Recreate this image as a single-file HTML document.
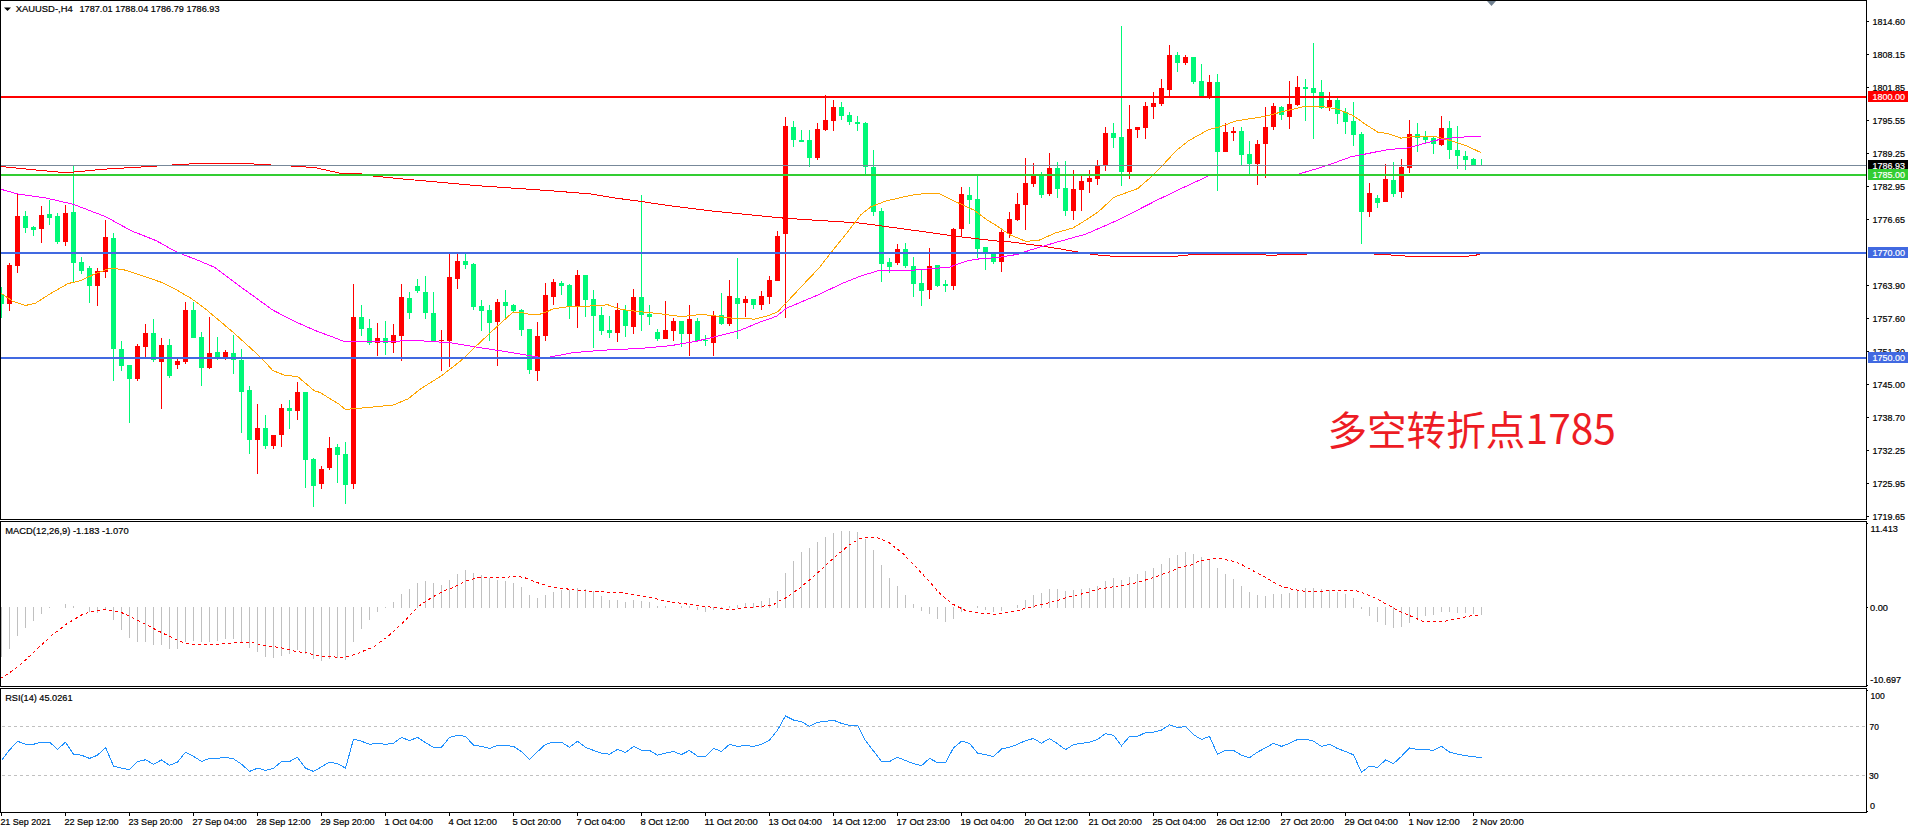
<!DOCTYPE html><html><head><meta charset="utf-8"><title>XAUUSD H4</title>
<style>html,body{margin:0;padding:0;background:#fff;}body{width:1908px;height:833px;overflow:hidden;}svg{display:block;}text{font-family:"Liberation Sans","Noto Sans CJK SC",sans-serif;font-size:9.7px;fill:#000;stroke:#000;stroke-width:0.2px;}.w{fill:#fff;stroke:#fff;}.cj{font-family:"Noto Sans CJK SC","Liberation Sans",sans-serif;font-size:39px;fill:#ed1c24;stroke:none;}</style></head><body>
<svg width="1908" height="833" viewBox="0 0 1908 833">
<rect x="0" y="0" width="1908" height="833" fill="#fff"/>
<defs><clipPath id="cm"><rect x="1" y="1" width="1865" height="518"/></clipPath><clipPath id="cd"><rect x="1" y="522" width="1865" height="164"/></clipPath><clipPath id="cr"><rect x="1" y="689" width="1865" height="123"/></clipPath></defs>
<g shape-rendering="crispEdges" clip-path="url(#cm)">
<rect x="1" y="287" width="1" height="31" fill="#00f877"/>
<rect x="-1" y="294" width="5" height="10" fill="#00f877"/>
<rect x="9" y="263" width="1" height="48" fill="#ff0000"/>
<rect x="7" y="265" width="5" height="39" fill="#ff0000"/>
<rect x="17" y="193" width="1" height="80" fill="#ff0000"/>
<rect x="15" y="216" width="5" height="50" fill="#ff0000"/>
<rect x="25" y="211" width="1" height="22" fill="#00f877"/>
<rect x="23" y="216" width="5" height="12" fill="#00f877"/>
<rect x="33" y="226" width="1" height="10" fill="#00f877"/>
<rect x="31" y="227" width="5" height="3" fill="#00f877"/>
<rect x="41" y="206" width="1" height="37" fill="#ff0000"/>
<rect x="39" y="215" width="5" height="14" fill="#ff0000"/>
<rect x="49" y="200" width="1" height="25" fill="#00f877"/>
<rect x="47" y="214" width="5" height="4" fill="#00f877"/>
<rect x="57" y="213" width="1" height="31" fill="#00f877"/>
<rect x="55" y="216" width="5" height="26" fill="#00f877"/>
<rect x="65" y="205" width="1" height="41" fill="#ff0000"/>
<rect x="63" y="213" width="5" height="29" fill="#ff0000"/>
<rect x="73" y="165" width="1" height="117" fill="#00f877"/>
<rect x="71" y="212" width="5" height="51" fill="#00f877"/>
<rect x="81" y="257" width="1" height="17" fill="#00f877"/>
<rect x="79" y="262" width="5" height="9" fill="#00f877"/>
<rect x="89" y="266" width="1" height="37" fill="#00f877"/>
<rect x="87" y="268" width="5" height="18" fill="#00f877"/>
<rect x="97" y="268" width="1" height="38" fill="#ff0000"/>
<rect x="95" y="271" width="5" height="15" fill="#ff0000"/>
<rect x="105" y="220" width="1" height="58" fill="#ff0000"/>
<rect x="103" y="237" width="5" height="35" fill="#ff0000"/>
<rect x="113" y="233" width="1" height="148" fill="#00f877"/>
<rect x="111" y="238" width="5" height="111" fill="#00f877"/>
<rect x="121" y="341" width="1" height="30" fill="#00f877"/>
<rect x="119" y="349" width="5" height="17" fill="#00f877"/>
<rect x="129" y="365" width="1" height="58" fill="#00f877"/>
<rect x="127" y="365" width="5" height="14" fill="#00f877"/>
<rect x="137" y="344" width="1" height="37" fill="#ff0000"/>
<rect x="135" y="346" width="5" height="33" fill="#ff0000"/>
<rect x="145" y="324" width="1" height="33" fill="#ff0000"/>
<rect x="143" y="333" width="5" height="14" fill="#ff0000"/>
<rect x="153" y="319" width="1" height="43" fill="#00f877"/>
<rect x="151" y="333" width="5" height="27" fill="#00f877"/>
<rect x="161" y="338" width="1" height="71" fill="#ff0000"/>
<rect x="159" y="345" width="5" height="17" fill="#ff0000"/>
<rect x="169" y="339" width="1" height="39" fill="#00f877"/>
<rect x="167" y="345" width="5" height="31" fill="#00f877"/>
<rect x="177" y="359" width="1" height="10" fill="#ff0000"/>
<rect x="175" y="361" width="5" height="4" fill="#ff0000"/>
<rect x="185" y="302" width="1" height="62" fill="#ff0000"/>
<rect x="183" y="310" width="5" height="52" fill="#ff0000"/>
<rect x="193" y="302" width="1" height="36" fill="#00f877"/>
<rect x="191" y="310" width="5" height="28" fill="#00f877"/>
<rect x="201" y="332" width="1" height="54" fill="#00f877"/>
<rect x="199" y="337" width="5" height="31" fill="#00f877"/>
<rect x="209" y="317" width="1" height="52" fill="#ff0000"/>
<rect x="207" y="353" width="5" height="15" fill="#ff0000"/>
<rect x="217" y="337" width="1" height="23" fill="#00f877"/>
<rect x="215" y="352" width="5" height="5" fill="#00f877"/>
<rect x="225" y="350" width="1" height="10" fill="#ff0000"/>
<rect x="223" y="352" width="5" height="5" fill="#ff0000"/>
<rect x="233" y="335" width="1" height="39" fill="#00f877"/>
<rect x="231" y="353" width="5" height="7" fill="#00f877"/>
<rect x="241" y="349" width="1" height="84" fill="#00f877"/>
<rect x="239" y="360" width="5" height="32" fill="#00f877"/>
<rect x="249" y="386" width="1" height="68" fill="#00f877"/>
<rect x="247" y="390" width="5" height="50" fill="#00f877"/>
<rect x="257" y="404" width="1" height="70" fill="#ff0000"/>
<rect x="255" y="428" width="5" height="12" fill="#ff0000"/>
<rect x="265" y="415" width="1" height="34" fill="#00f877"/>
<rect x="263" y="428" width="5" height="18" fill="#00f877"/>
<rect x="273" y="435" width="1" height="14" fill="#ff0000"/>
<rect x="271" y="435" width="5" height="11" fill="#ff0000"/>
<rect x="281" y="404" width="1" height="43" fill="#ff0000"/>
<rect x="279" y="408" width="5" height="27" fill="#ff0000"/>
<rect x="289" y="400" width="1" height="29" fill="#00f877"/>
<rect x="287" y="408" width="5" height="3" fill="#00f877"/>
<rect x="297" y="382" width="1" height="38" fill="#ff0000"/>
<rect x="295" y="392" width="5" height="19" fill="#ff0000"/>
<rect x="305" y="392" width="1" height="96" fill="#00f877"/>
<rect x="303" y="392" width="5" height="68" fill="#00f877"/>
<rect x="313" y="458" width="1" height="49" fill="#00f877"/>
<rect x="311" y="459" width="5" height="27" fill="#00f877"/>
<rect x="321" y="466" width="1" height="23" fill="#ff0000"/>
<rect x="319" y="469" width="5" height="15" fill="#ff0000"/>
<rect x="329" y="437" width="1" height="33" fill="#ff0000"/>
<rect x="327" y="448" width="5" height="20" fill="#ff0000"/>
<rect x="337" y="444" width="1" height="39" fill="#00f877"/>
<rect x="335" y="447" width="5" height="8" fill="#00f877"/>
<rect x="345" y="442" width="1" height="62" fill="#00f877"/>
<rect x="343" y="454" width="5" height="31" fill="#00f877"/>
<rect x="353" y="284" width="1" height="205" fill="#ff0000"/>
<rect x="351" y="317" width="5" height="167" fill="#ff0000"/>
<rect x="361" y="305" width="1" height="31" fill="#00f877"/>
<rect x="359" y="317" width="5" height="12" fill="#00f877"/>
<rect x="369" y="319" width="1" height="26" fill="#00f877"/>
<rect x="367" y="328" width="5" height="15" fill="#00f877"/>
<rect x="377" y="323" width="1" height="33" fill="#ff0000"/>
<rect x="375" y="338" width="5" height="5" fill="#ff0000"/>
<rect x="385" y="321" width="1" height="34" fill="#00f877"/>
<rect x="383" y="338" width="5" height="5" fill="#00f877"/>
<rect x="393" y="324" width="1" height="29" fill="#ff0000"/>
<rect x="391" y="335" width="5" height="8" fill="#ff0000"/>
<rect x="401" y="284" width="1" height="77" fill="#ff0000"/>
<rect x="399" y="297" width="5" height="39" fill="#ff0000"/>
<rect x="409" y="292" width="1" height="27" fill="#00f877"/>
<rect x="407" y="298" width="5" height="15" fill="#00f877"/>
<rect x="417" y="279" width="1" height="14" fill="#00f877"/>
<rect x="415" y="286" width="5" height="5" fill="#00f877"/>
<rect x="425" y="276" width="1" height="43" fill="#00f877"/>
<rect x="423" y="292" width="5" height="21" fill="#00f877"/>
<rect x="433" y="292" width="1" height="50" fill="#00f877"/>
<rect x="431" y="313" width="5" height="28" fill="#00f877"/>
<rect x="441" y="330" width="1" height="41" fill="#ff0000"/>
<rect x="439" y="340" width="5" height="1" fill="#ff0000"/>
<rect x="449" y="254" width="1" height="113" fill="#ff0000"/>
<rect x="447" y="277" width="5" height="64" fill="#ff0000"/>
<rect x="457" y="254" width="1" height="35" fill="#ff0000"/>
<rect x="455" y="261" width="5" height="18" fill="#ff0000"/>
<rect x="465" y="254" width="1" height="15" fill="#00f877"/>
<rect x="463" y="261" width="5" height="4" fill="#00f877"/>
<rect x="473" y="263" width="1" height="47" fill="#00f877"/>
<rect x="471" y="264" width="5" height="43" fill="#00f877"/>
<rect x="481" y="300" width="1" height="31" fill="#00f877"/>
<rect x="479" y="306" width="5" height="5" fill="#00f877"/>
<rect x="489" y="305" width="1" height="36" fill="#00f877"/>
<rect x="487" y="310" width="5" height="13" fill="#00f877"/>
<rect x="497" y="299" width="1" height="67" fill="#ff0000"/>
<rect x="495" y="302" width="5" height="20" fill="#ff0000"/>
<rect x="505" y="290" width="1" height="28" fill="#00f877"/>
<rect x="503" y="302" width="5" height="4" fill="#00f877"/>
<rect x="513" y="304" width="1" height="8" fill="#00f877"/>
<rect x="511" y="305" width="5" height="6" fill="#00f877"/>
<rect x="521" y="309" width="1" height="27" fill="#00f877"/>
<rect x="519" y="310" width="5" height="20" fill="#00f877"/>
<rect x="529" y="329" width="1" height="45" fill="#00f877"/>
<rect x="527" y="329" width="5" height="41" fill="#00f877"/>
<rect x="537" y="322" width="1" height="59" fill="#ff0000"/>
<rect x="535" y="336" width="5" height="35" fill="#ff0000"/>
<rect x="545" y="283" width="1" height="58" fill="#ff0000"/>
<rect x="543" y="295" width="5" height="41" fill="#ff0000"/>
<rect x="553" y="279" width="1" height="26" fill="#ff0000"/>
<rect x="551" y="282" width="5" height="15" fill="#ff0000"/>
<rect x="561" y="281" width="1" height="14" fill="#00f877"/>
<rect x="559" y="283" width="5" height="3" fill="#00f877"/>
<rect x="569" y="284" width="1" height="35" fill="#00f877"/>
<rect x="567" y="285" width="5" height="22" fill="#00f877"/>
<rect x="577" y="270" width="1" height="58" fill="#ff0000"/>
<rect x="575" y="275" width="5" height="31" fill="#ff0000"/>
<rect x="585" y="275" width="1" height="42" fill="#00f877"/>
<rect x="583" y="275" width="5" height="25" fill="#00f877"/>
<rect x="593" y="290" width="1" height="58" fill="#00f877"/>
<rect x="591" y="299" width="5" height="17" fill="#00f877"/>
<rect x="601" y="307" width="1" height="28" fill="#00f877"/>
<rect x="599" y="315" width="5" height="16" fill="#00f877"/>
<rect x="609" y="316" width="1" height="22" fill="#00f877"/>
<rect x="607" y="330" width="5" height="3" fill="#00f877"/>
<rect x="617" y="303" width="1" height="39" fill="#ff0000"/>
<rect x="615" y="310" width="5" height="23" fill="#ff0000"/>
<rect x="625" y="305" width="1" height="32" fill="#00f877"/>
<rect x="623" y="310" width="5" height="16" fill="#00f877"/>
<rect x="633" y="289" width="1" height="45" fill="#ff0000"/>
<rect x="631" y="297" width="5" height="30" fill="#ff0000"/>
<rect x="641" y="195" width="1" height="136" fill="#00f877"/>
<rect x="639" y="297" width="5" height="18" fill="#00f877"/>
<rect x="649" y="305" width="1" height="20" fill="#00f877"/>
<rect x="647" y="314" width="5" height="3" fill="#00f877"/>
<rect x="657" y="329" width="1" height="12" fill="#00f877"/>
<rect x="655" y="332" width="5" height="7" fill="#00f877"/>
<rect x="665" y="301" width="1" height="38" fill="#ff0000"/>
<rect x="663" y="330" width="5" height="9" fill="#ff0000"/>
<rect x="673" y="318" width="1" height="23" fill="#ff0000"/>
<rect x="671" y="321" width="5" height="10" fill="#ff0000"/>
<rect x="681" y="321" width="1" height="26" fill="#00f877"/>
<rect x="679" y="321" width="5" height="13" fill="#00f877"/>
<rect x="689" y="305" width="1" height="51" fill="#ff0000"/>
<rect x="687" y="319" width="5" height="15" fill="#ff0000"/>
<rect x="697" y="318" width="1" height="23" fill="#00f877"/>
<rect x="695" y="321" width="5" height="20" fill="#00f877"/>
<rect x="705" y="335" width="1" height="11" fill="#00f877"/>
<rect x="703" y="340" width="5" height="1" fill="#00f877"/>
<rect x="713" y="311" width="1" height="45" fill="#ff0000"/>
<rect x="711" y="315" width="5" height="28" fill="#ff0000"/>
<rect x="721" y="293" width="1" height="32" fill="#00f877"/>
<rect x="719" y="315" width="5" height="9" fill="#00f877"/>
<rect x="729" y="280" width="1" height="46" fill="#ff0000"/>
<rect x="727" y="296" width="5" height="28" fill="#ff0000"/>
<rect x="737" y="258" width="1" height="81" fill="#00f877"/>
<rect x="735" y="298" width="5" height="6" fill="#00f877"/>
<rect x="745" y="296" width="1" height="21" fill="#ff0000"/>
<rect x="743" y="299" width="5" height="4" fill="#ff0000"/>
<rect x="753" y="299" width="1" height="10" fill="#00f877"/>
<rect x="751" y="299" width="5" height="6" fill="#00f877"/>
<rect x="761" y="291" width="1" height="19" fill="#ff0000"/>
<rect x="759" y="296" width="5" height="9" fill="#ff0000"/>
<rect x="769" y="276" width="1" height="28" fill="#ff0000"/>
<rect x="767" y="280" width="5" height="17" fill="#ff0000"/>
<rect x="777" y="231" width="1" height="50" fill="#ff0000"/>
<rect x="775" y="236" width="5" height="45" fill="#ff0000"/>
<rect x="785" y="117" width="1" height="201" fill="#ff0000"/>
<rect x="783" y="126" width="5" height="108" fill="#ff0000"/>
<rect x="793" y="121" width="1" height="26" fill="#00f877"/>
<rect x="791" y="127" width="5" height="13" fill="#00f877"/>
<rect x="801" y="130" width="1" height="12" fill="#00f877"/>
<rect x="799" y="140" width="5" height="2" fill="#00f877"/>
<rect x="809" y="130" width="1" height="37" fill="#00f877"/>
<rect x="807" y="140" width="5" height="18" fill="#00f877"/>
<rect x="817" y="123" width="1" height="37" fill="#ff0000"/>
<rect x="815" y="129" width="5" height="29" fill="#ff0000"/>
<rect x="825" y="95" width="1" height="36" fill="#ff0000"/>
<rect x="823" y="120" width="5" height="10" fill="#ff0000"/>
<rect x="833" y="100" width="1" height="31" fill="#ff0000"/>
<rect x="831" y="107" width="5" height="14" fill="#ff0000"/>
<rect x="841" y="102" width="1" height="18" fill="#00f877"/>
<rect x="839" y="107" width="5" height="9" fill="#00f877"/>
<rect x="849" y="112" width="1" height="13" fill="#00f877"/>
<rect x="847" y="115" width="5" height="7" fill="#00f877"/>
<rect x="857" y="116" width="1" height="15" fill="#00f877"/>
<rect x="855" y="122" width="5" height="2" fill="#00f877"/>
<rect x="865" y="122" width="1" height="52" fill="#00f877"/>
<rect x="863" y="123" width="5" height="44" fill="#00f877"/>
<rect x="873" y="150" width="1" height="66" fill="#00f877"/>
<rect x="871" y="167" width="5" height="45" fill="#00f877"/>
<rect x="881" y="208" width="1" height="74" fill="#00f877"/>
<rect x="879" y="211" width="5" height="53" fill="#00f877"/>
<rect x="889" y="258" width="1" height="15" fill="#00f877"/>
<rect x="887" y="262" width="5" height="5" fill="#00f877"/>
<rect x="897" y="244" width="1" height="21" fill="#ff0000"/>
<rect x="895" y="249" width="5" height="14" fill="#ff0000"/>
<rect x="905" y="243" width="1" height="25" fill="#00f877"/>
<rect x="903" y="249" width="5" height="17" fill="#00f877"/>
<rect x="913" y="257" width="1" height="40" fill="#00f877"/>
<rect x="911" y="266" width="5" height="18" fill="#00f877"/>
<rect x="921" y="270" width="1" height="36" fill="#00f877"/>
<rect x="919" y="283" width="5" height="8" fill="#00f877"/>
<rect x="929" y="248" width="1" height="51" fill="#ff0000"/>
<rect x="927" y="266" width="5" height="24" fill="#ff0000"/>
<rect x="937" y="265" width="1" height="22" fill="#00f877"/>
<rect x="935" y="265" width="5" height="21" fill="#00f877"/>
<rect x="945" y="280" width="1" height="12" fill="#00f877"/>
<rect x="943" y="284" width="5" height="2" fill="#00f877"/>
<rect x="953" y="228" width="1" height="62" fill="#ff0000"/>
<rect x="951" y="229" width="5" height="57" fill="#ff0000"/>
<rect x="961" y="187" width="1" height="49" fill="#ff0000"/>
<rect x="959" y="194" width="5" height="35" fill="#ff0000"/>
<rect x="969" y="187" width="1" height="37" fill="#00f877"/>
<rect x="967" y="195" width="5" height="5" fill="#00f877"/>
<rect x="977" y="176" width="1" height="82" fill="#00f877"/>
<rect x="975" y="199" width="5" height="50" fill="#00f877"/>
<rect x="985" y="247" width="1" height="23" fill="#00f877"/>
<rect x="983" y="247" width="5" height="6" fill="#00f877"/>
<rect x="993" y="253" width="1" height="11" fill="#00f877"/>
<rect x="991" y="253" width="5" height="9" fill="#00f877"/>
<rect x="1001" y="230" width="1" height="42" fill="#ff0000"/>
<rect x="999" y="232" width="5" height="30" fill="#ff0000"/>
<rect x="1009" y="212" width="1" height="26" fill="#ff0000"/>
<rect x="1007" y="219" width="5" height="15" fill="#ff0000"/>
<rect x="1017" y="193" width="1" height="28" fill="#ff0000"/>
<rect x="1015" y="204" width="5" height="16" fill="#ff0000"/>
<rect x="1025" y="158" width="1" height="72" fill="#ff0000"/>
<rect x="1023" y="183" width="5" height="22" fill="#ff0000"/>
<rect x="1033" y="163" width="1" height="24" fill="#ff0000"/>
<rect x="1031" y="176" width="5" height="8" fill="#ff0000"/>
<rect x="1041" y="172" width="1" height="26" fill="#00f877"/>
<rect x="1039" y="175" width="5" height="20" fill="#00f877"/>
<rect x="1049" y="153" width="1" height="43" fill="#ff0000"/>
<rect x="1047" y="168" width="5" height="26" fill="#ff0000"/>
<rect x="1057" y="162" width="1" height="36" fill="#00f877"/>
<rect x="1055" y="168" width="5" height="21" fill="#00f877"/>
<rect x="1065" y="161" width="1" height="55" fill="#00f877"/>
<rect x="1063" y="188" width="5" height="23" fill="#00f877"/>
<rect x="1073" y="170" width="1" height="50" fill="#ff0000"/>
<rect x="1071" y="189" width="5" height="22" fill="#ff0000"/>
<rect x="1081" y="176" width="1" height="35" fill="#ff0000"/>
<rect x="1079" y="181" width="5" height="9" fill="#ff0000"/>
<rect x="1089" y="170" width="1" height="23" fill="#ff0000"/>
<rect x="1087" y="178" width="5" height="4" fill="#ff0000"/>
<rect x="1097" y="160" width="1" height="25" fill="#ff0000"/>
<rect x="1095" y="165" width="5" height="14" fill="#ff0000"/>
<rect x="1105" y="127" width="1" height="44" fill="#ff0000"/>
<rect x="1103" y="133" width="5" height="33" fill="#ff0000"/>
<rect x="1113" y="123" width="1" height="25" fill="#00f877"/>
<rect x="1111" y="133" width="5" height="5" fill="#00f877"/>
<rect x="1121" y="26" width="1" height="160" fill="#00f877"/>
<rect x="1119" y="137" width="5" height="35" fill="#00f877"/>
<rect x="1129" y="105" width="1" height="74" fill="#ff0000"/>
<rect x="1127" y="129" width="5" height="43" fill="#ff0000"/>
<rect x="1137" y="127" width="1" height="11" fill="#ff0000"/>
<rect x="1135" y="127" width="5" height="3" fill="#ff0000"/>
<rect x="1145" y="102" width="1" height="37" fill="#ff0000"/>
<rect x="1143" y="106" width="5" height="22" fill="#ff0000"/>
<rect x="1153" y="92" width="1" height="27" fill="#ff0000"/>
<rect x="1151" y="103" width="5" height="4" fill="#ff0000"/>
<rect x="1161" y="79" width="1" height="27" fill="#ff0000"/>
<rect x="1159" y="88" width="5" height="16" fill="#ff0000"/>
<rect x="1169" y="45" width="1" height="51" fill="#ff0000"/>
<rect x="1167" y="55" width="5" height="35" fill="#ff0000"/>
<rect x="1177" y="52" width="1" height="20" fill="#00f877"/>
<rect x="1175" y="55" width="5" height="8" fill="#00f877"/>
<rect x="1185" y="55" width="1" height="10" fill="#ff0000"/>
<rect x="1183" y="57" width="5" height="6" fill="#ff0000"/>
<rect x="1193" y="57" width="1" height="27" fill="#00f877"/>
<rect x="1191" y="57" width="5" height="25" fill="#00f877"/>
<rect x="1201" y="64" width="1" height="32" fill="#00f877"/>
<rect x="1199" y="81" width="5" height="15" fill="#00f877"/>
<rect x="1209" y="75" width="1" height="24" fill="#ff0000"/>
<rect x="1207" y="82" width="5" height="16" fill="#ff0000"/>
<rect x="1217" y="74" width="1" height="117" fill="#00f877"/>
<rect x="1215" y="82" width="5" height="70" fill="#00f877"/>
<rect x="1225" y="123" width="1" height="29" fill="#ff0000"/>
<rect x="1223" y="132" width="5" height="20" fill="#ff0000"/>
<rect x="1233" y="127" width="1" height="14" fill="#ff0000"/>
<rect x="1231" y="131" width="5" height="2" fill="#ff0000"/>
<rect x="1241" y="127" width="1" height="38" fill="#00f877"/>
<rect x="1239" y="131" width="5" height="24" fill="#00f877"/>
<rect x="1249" y="141" width="1" height="33" fill="#00f877"/>
<rect x="1247" y="154" width="5" height="10" fill="#00f877"/>
<rect x="1257" y="140" width="1" height="45" fill="#ff0000"/>
<rect x="1255" y="144" width="5" height="20" fill="#ff0000"/>
<rect x="1265" y="107" width="1" height="71" fill="#ff0000"/>
<rect x="1263" y="127" width="5" height="17" fill="#ff0000"/>
<rect x="1273" y="103" width="1" height="27" fill="#ff0000"/>
<rect x="1271" y="106" width="5" height="21" fill="#ff0000"/>
<rect x="1281" y="106" width="1" height="14" fill="#00f877"/>
<rect x="1279" y="107" width="5" height="8" fill="#00f877"/>
<rect x="1289" y="81" width="1" height="48" fill="#ff0000"/>
<rect x="1287" y="104" width="5" height="13" fill="#ff0000"/>
<rect x="1297" y="76" width="1" height="30" fill="#ff0000"/>
<rect x="1295" y="87" width="5" height="18" fill="#ff0000"/>
<rect x="1305" y="79" width="1" height="42" fill="#00f877"/>
<rect x="1303" y="87" width="5" height="2" fill="#00f877"/>
<rect x="1313" y="43" width="1" height="96" fill="#00f877"/>
<rect x="1311" y="88" width="5" height="5" fill="#00f877"/>
<rect x="1321" y="80" width="1" height="29" fill="#00f877"/>
<rect x="1319" y="92" width="5" height="16" fill="#00f877"/>
<rect x="1329" y="92" width="1" height="19" fill="#ff0000"/>
<rect x="1327" y="100" width="5" height="7" fill="#ff0000"/>
<rect x="1337" y="98" width="1" height="26" fill="#00f877"/>
<rect x="1335" y="100" width="5" height="14" fill="#00f877"/>
<rect x="1345" y="108" width="1" height="26" fill="#00f877"/>
<rect x="1343" y="112" width="5" height="10" fill="#00f877"/>
<rect x="1353" y="102" width="1" height="44" fill="#00f877"/>
<rect x="1351" y="121" width="5" height="14" fill="#00f877"/>
<rect x="1361" y="132" width="1" height="112" fill="#00f877"/>
<rect x="1359" y="134" width="5" height="78" fill="#00f877"/>
<rect x="1369" y="183" width="1" height="34" fill="#ff0000"/>
<rect x="1367" y="193" width="5" height="19" fill="#ff0000"/>
<rect x="1377" y="195" width="1" height="13" fill="#00f877"/>
<rect x="1375" y="198" width="5" height="5" fill="#00f877"/>
<rect x="1385" y="164" width="1" height="38" fill="#ff0000"/>
<rect x="1383" y="179" width="5" height="23" fill="#ff0000"/>
<rect x="1393" y="162" width="1" height="35" fill="#00f877"/>
<rect x="1391" y="180" width="5" height="14" fill="#00f877"/>
<rect x="1401" y="159" width="1" height="39" fill="#ff0000"/>
<rect x="1399" y="167" width="5" height="25" fill="#ff0000"/>
<rect x="1409" y="120" width="1" height="53" fill="#ff0000"/>
<rect x="1407" y="134" width="5" height="34" fill="#ff0000"/>
<rect x="1417" y="123" width="1" height="29" fill="#00f877"/>
<rect x="1415" y="134" width="5" height="4" fill="#00f877"/>
<rect x="1425" y="131" width="1" height="13" fill="#00f877"/>
<rect x="1423" y="137" width="5" height="3" fill="#00f877"/>
<rect x="1433" y="137" width="1" height="17" fill="#00f877"/>
<rect x="1431" y="138" width="5" height="6" fill="#00f877"/>
<rect x="1441" y="116" width="1" height="30" fill="#ff0000"/>
<rect x="1439" y="128" width="5" height="17" fill="#ff0000"/>
<rect x="1449" y="121" width="1" height="38" fill="#00f877"/>
<rect x="1447" y="128" width="5" height="22" fill="#00f877"/>
<rect x="1457" y="126" width="1" height="43" fill="#00f877"/>
<rect x="1455" y="150" width="5" height="6" fill="#00f877"/>
<rect x="1465" y="151" width="1" height="19" fill="#00f877"/>
<rect x="1463" y="156" width="5" height="4" fill="#00f877"/>
<rect x="1473" y="158" width="1" height="7" fill="#00f877"/>
<rect x="1471" y="159" width="5" height="6" fill="#00f877"/>
<rect x="1481" y="159" width="1" height="7" fill="#00f877"/>
<rect x="1479" y="165" width="5" height="1" fill="#00f877"/>
</g>
<g clip-path="url(#cm)" shape-rendering="crispEdges">
<polyline points="0.0,166.4 37.8,170.2 65.5,172.7 75.6,171.9 100.8,169.4 151.2,166.4 181.5,164.4 201.7,163.3 244.5,163.3 262.2,164.6 284.8,165.6 315.1,167.6 340.3,173.2 358.0,173.2 373.0,176.0 403.3,179.0 479.0,185.8 540.0,190.0 557.6,191.3 590.4,193.9 615.6,198.1 640.8,201.4 666.0,205.2 691.3,208.5 716.5,211.5 741.7,214.0 779.5,217.8 810.4,219.9 860.8,223.1 911.3,230.0 961.7,237.0 999.5,241.3 1005.2,241.2 1043.0,246.2 1060.0,248.9 1077.3,251.9 1094.6,254.7 1101.5,255.4 1117.7,256.5 1173.0,256.5 1189.0,254.9 1263.0,254.4 1270.0,255.8 1276.8,255.0 1305.0,254.3 1310.0,253.3 1372.0,253.3 1375.5,254.3 1389.8,254.9 1406.0,256.1 1468.0,256.1 1477.4,254.9 1481.0,253.8" fill="none" stroke="#ff0000" stroke-width="1" />
<polyline points="0.0,189.0 17.6,194.0 45.4,197.9 73.1,204.2 105.9,216.8 131.1,230.7 156.3,240.7 176.5,252.0 196.6,259.7 214.3,267.2 239.5,286.0 272.7,310.0 291.6,320.0 314.3,330.2 332.6,337.0 345.2,342.0 370.4,341.3 420.8,340.8 451.0,342.8 476.3,347.1 501.5,351.0 529.2,355.5 539.3,357.2 550.0,357.0 572.8,352.7 603.0,350.2 640.8,348.4 671.0,345.6 696.3,341.3 716.5,336.3 739.1,330.7 759.3,322.4 776.4,316.3 786.5,308.2 816.7,295.5 841.9,283.6 860.8,276.0 879.8,270.3 911.3,270.3 923.9,269.3 949.1,267.2 968.0,260.6 980.6,258.7 997.6,257.6 1017.8,254.3 1030.4,250.0 1055.6,242.5 1085.9,234.1 1118.6,219.8 1156.5,200.4 1181.7,188.3 1208.4,176.0" fill="none" stroke="#ff00ff" stroke-width="1" />
<polyline points="1299.1,173.9 1315.1,169.2 1332.8,163.4 1350.4,157.0 1365.5,154.0 1388.2,149.5 1405.9,148.2 1421.0,144.4 1436.1,140.2 1456.3,137.4 1480.7,136.1" fill="none" stroke="#ff00ff" stroke-width="1" />
<polyline points="0.0,292.4 12.6,301.2 25.2,305.5 35.3,303.3 50.4,293.7 68.0,283.6 80.7,280.6 95.8,273.5 110.9,268.0 123.5,269.7 141.2,275.3 161.3,282.3 176.5,289.9 191.6,298.7 206.7,310.0 221.8,322.7 233.6,332.7 261.3,357.9 272.7,370.5 284.0,375.0 297.9,376.8 314.3,390.7 320.0,392.5 339.5,404.5 345.2,409.4 357.8,408.4 393.1,405.1 408.2,398.8 420.8,388.7 441.0,376.1 461.2,360.5 476.3,345.9 496.5,327.0 512.8,312.3 521.7,312.3 529.2,314.4 539.3,314.4 546.9,311.8 552.6,309.0 567.7,306.8 590.4,306.0 608.0,304.8 620.7,309.3 640.8,311.8 658.5,313.6 681.2,316.6 701.3,314.4 716.5,316.1 731.6,318.1 754.3,319.1 766.9,316.1 777.6,311.9 786.5,302.5 805.4,282.3 819.2,267.8 830.6,253.1 848.2,231.3 860.8,214.8 870.9,206.8 886.0,201.0 911.3,195.2 926.4,193.4 939.0,193.4 954.1,201.0 974.3,210.3 986.9,219.9 995.1,224.8 1010.2,234.9 1025.4,241.2 1038.0,240.7 1055.6,232.9 1073.3,227.8 1088.4,218.5 1098.5,211.7 1113.9,197.3 1137.8,188.5 1150.4,177.6 1163.0,165.0 1175.6,151.2 1188.2,141.0 1208.4,129.7 1221.0,126.5 1236.1,120.9 1263.9,116.6 1284.0,111.3 1304.2,106.5 1320.2,106.1 1337.8,109.2 1352.9,115.5 1365.5,124.3 1378.1,132.3 1388.2,133.6 1400.8,138.1 1410.9,136.9 1433.6,136.1 1451.2,140.7 1466.4,145.7 1480.7,152.5" fill="none" stroke="#ffa500" stroke-width="1" />
</g>
<g shape-rendering="crispEdges">
<rect x="1" y="165" width="1865" height="1" fill="#778899"/>
<rect x="1" y="96" width="1865" height="2" fill="#ff0000"/>
<rect x="1" y="174" width="1865" height="2" fill="#32cd32"/>
<rect x="1" y="252" width="1865" height="2" fill="#4169e1"/>
<rect x="1" y="357" width="1865" height="2" fill="#4169e1"/>
</g>
<g shape-rendering="crispEdges" clip-path="url(#cd)">
<rect x="1" y="607" width="1" height="50" fill="#c0c0c0"/>
<rect x="9" y="607" width="1" height="42" fill="#c0c0c0"/>
<rect x="17" y="607" width="1" height="29" fill="#c0c0c0"/>
<rect x="25" y="607" width="1" height="21" fill="#c0c0c0"/>
<rect x="33" y="607" width="1" height="14" fill="#c0c0c0"/>
<rect x="41" y="607" width="1" height="7" fill="#c0c0c0"/>
<rect x="49" y="607" width="1" height="1" fill="#c0c0c0"/>
<rect x="65" y="604" width="1" height="4" fill="#c0c0c0"/>
<rect x="73" y="606" width="1" height="2" fill="#c0c0c0"/>
<rect x="89" y="607" width="1" height="5" fill="#c0c0c0"/>
<rect x="97" y="607" width="1" height="6" fill="#c0c0c0"/>
<rect x="105" y="607" width="1" height="3" fill="#c0c0c0"/>
<rect x="113" y="607" width="1" height="13" fill="#c0c0c0"/>
<rect x="121" y="607" width="1" height="23" fill="#c0c0c0"/>
<rect x="129" y="607" width="1" height="31" fill="#c0c0c0"/>
<rect x="137" y="607" width="1" height="35" fill="#c0c0c0"/>
<rect x="145" y="607" width="1" height="35" fill="#c0c0c0"/>
<rect x="153" y="607" width="1" height="38" fill="#c0c0c0"/>
<rect x="161" y="607" width="1" height="38" fill="#c0c0c0"/>
<rect x="169" y="607" width="1" height="42" fill="#c0c0c0"/>
<rect x="177" y="607" width="1" height="42" fill="#c0c0c0"/>
<rect x="185" y="607" width="1" height="35" fill="#c0c0c0"/>
<rect x="193" y="607" width="1" height="34" fill="#c0c0c0"/>
<rect x="201" y="607" width="1" height="35" fill="#c0c0c0"/>
<rect x="209" y="607" width="1" height="35" fill="#c0c0c0"/>
<rect x="217" y="607" width="1" height="34" fill="#c0c0c0"/>
<rect x="225" y="607" width="1" height="32" fill="#c0c0c0"/>
<rect x="233" y="607" width="1" height="32" fill="#c0c0c0"/>
<rect x="241" y="607" width="1" height="35" fill="#c0c0c0"/>
<rect x="249" y="607" width="1" height="41" fill="#c0c0c0"/>
<rect x="257" y="607" width="1" height="45" fill="#c0c0c0"/>
<rect x="265" y="607" width="1" height="50" fill="#c0c0c0"/>
<rect x="273" y="607" width="1" height="51" fill="#c0c0c0"/>
<rect x="281" y="607" width="1" height="49" fill="#c0c0c0"/>
<rect x="289" y="607" width="1" height="47" fill="#c0c0c0"/>
<rect x="297" y="607" width="1" height="43" fill="#c0c0c0"/>
<rect x="305" y="607" width="1" height="47" fill="#c0c0c0"/>
<rect x="313" y="607" width="1" height="52" fill="#c0c0c0"/>
<rect x="321" y="607" width="1" height="54" fill="#c0c0c0"/>
<rect x="329" y="607" width="1" height="52" fill="#c0c0c0"/>
<rect x="337" y="607" width="1" height="51" fill="#c0c0c0"/>
<rect x="345" y="607" width="1" height="53" fill="#c0c0c0"/>
<rect x="353" y="607" width="1" height="35" fill="#c0c0c0"/>
<rect x="361" y="607" width="1" height="22" fill="#c0c0c0"/>
<rect x="369" y="607" width="1" height="13" fill="#c0c0c0"/>
<rect x="377" y="607" width="1" height="5" fill="#c0c0c0"/>
<rect x="385" y="607" width="1" height="1" fill="#c0c0c0"/>
<rect x="393" y="602" width="1" height="6" fill="#c0c0c0"/>
<rect x="401" y="594" width="1" height="14" fill="#c0c0c0"/>
<rect x="409" y="589" width="1" height="19" fill="#c0c0c0"/>
<rect x="417" y="583" width="1" height="25" fill="#c0c0c0"/>
<rect x="425" y="581" width="1" height="27" fill="#c0c0c0"/>
<rect x="433" y="583" width="1" height="25" fill="#c0c0c0"/>
<rect x="441" y="585" width="1" height="23" fill="#c0c0c0"/>
<rect x="449" y="580" width="1" height="28" fill="#c0c0c0"/>
<rect x="457" y="574" width="1" height="34" fill="#c0c0c0"/>
<rect x="465" y="570" width="1" height="38" fill="#c0c0c0"/>
<rect x="473" y="573" width="1" height="35" fill="#c0c0c0"/>
<rect x="481" y="575" width="1" height="33" fill="#c0c0c0"/>
<rect x="489" y="578" width="1" height="30" fill="#c0c0c0"/>
<rect x="497" y="580" width="1" height="28" fill="#c0c0c0"/>
<rect x="505" y="581" width="1" height="27" fill="#c0c0c0"/>
<rect x="513" y="583" width="1" height="25" fill="#c0c0c0"/>
<rect x="521" y="587" width="1" height="21" fill="#c0c0c0"/>
<rect x="529" y="595" width="1" height="13" fill="#c0c0c0"/>
<rect x="537" y="598" width="1" height="10" fill="#c0c0c0"/>
<rect x="545" y="595" width="1" height="13" fill="#c0c0c0"/>
<rect x="553" y="592" width="1" height="16" fill="#c0c0c0"/>
<rect x="561" y="590" width="1" height="18" fill="#c0c0c0"/>
<rect x="569" y="590" width="1" height="18" fill="#c0c0c0"/>
<rect x="577" y="588" width="1" height="20" fill="#c0c0c0"/>
<rect x="585" y="589" width="1" height="19" fill="#c0c0c0"/>
<rect x="593" y="591" width="1" height="17" fill="#c0c0c0"/>
<rect x="601" y="596" width="1" height="12" fill="#c0c0c0"/>
<rect x="609" y="600" width="1" height="8" fill="#c0c0c0"/>
<rect x="617" y="600" width="1" height="8" fill="#c0c0c0"/>
<rect x="625" y="602" width="1" height="6" fill="#c0c0c0"/>
<rect x="633" y="600" width="1" height="8" fill="#c0c0c0"/>
<rect x="641" y="601" width="1" height="7" fill="#c0c0c0"/>
<rect x="649" y="602" width="1" height="6" fill="#c0c0c0"/>
<rect x="657" y="606" width="1" height="2" fill="#c0c0c0"/>
<rect x="665" y="606" width="1" height="2" fill="#c0c0c0"/>
<rect x="681" y="606" width="1" height="2" fill="#c0c0c0"/>
<rect x="689" y="606" width="1" height="2" fill="#c0c0c0"/>
<rect x="697" y="607" width="1" height="3" fill="#c0c0c0"/>
<rect x="705" y="607" width="1" height="5" fill="#c0c0c0"/>
<rect x="713" y="607" width="1" height="3" fill="#c0c0c0"/>
<rect x="721" y="607" width="1" height="2" fill="#c0c0c0"/>
<rect x="729" y="606" width="1" height="2" fill="#c0c0c0"/>
<rect x="737" y="605" width="1" height="3" fill="#c0c0c0"/>
<rect x="745" y="603" width="1" height="5" fill="#c0c0c0"/>
<rect x="753" y="603" width="1" height="5" fill="#c0c0c0"/>
<rect x="761" y="601" width="1" height="7" fill="#c0c0c0"/>
<rect x="769" y="598" width="1" height="10" fill="#c0c0c0"/>
<rect x="777" y="591" width="1" height="17" fill="#c0c0c0"/>
<rect x="785" y="573" width="1" height="35" fill="#c0c0c0"/>
<rect x="793" y="561" width="1" height="47" fill="#c0c0c0"/>
<rect x="801" y="552" width="1" height="56" fill="#c0c0c0"/>
<rect x="809" y="548" width="1" height="60" fill="#c0c0c0"/>
<rect x="817" y="542" width="1" height="66" fill="#c0c0c0"/>
<rect x="825" y="537" width="1" height="71" fill="#c0c0c0"/>
<rect x="833" y="533" width="1" height="75" fill="#c0c0c0"/>
<rect x="841" y="531" width="1" height="77" fill="#c0c0c0"/>
<rect x="849" y="531" width="1" height="77" fill="#c0c0c0"/>
<rect x="857" y="532" width="1" height="76" fill="#c0c0c0"/>
<rect x="865" y="539" width="1" height="69" fill="#c0c0c0"/>
<rect x="873" y="550" width="1" height="58" fill="#c0c0c0"/>
<rect x="881" y="565" width="1" height="43" fill="#c0c0c0"/>
<rect x="889" y="578" width="1" height="30" fill="#c0c0c0"/>
<rect x="897" y="586" width="1" height="22" fill="#c0c0c0"/>
<rect x="905" y="595" width="1" height="13" fill="#c0c0c0"/>
<rect x="913" y="604" width="1" height="4" fill="#c0c0c0"/>
<rect x="921" y="607" width="1" height="4" fill="#c0c0c0"/>
<rect x="929" y="607" width="1" height="7" fill="#c0c0c0"/>
<rect x="937" y="607" width="1" height="12" fill="#c0c0c0"/>
<rect x="945" y="607" width="1" height="15" fill="#c0c0c0"/>
<rect x="953" y="607" width="1" height="12" fill="#c0c0c0"/>
<rect x="961" y="607" width="1" height="5" fill="#c0c0c0"/>
<rect x="977" y="606" width="1" height="2" fill="#c0c0c0"/>
<rect x="985" y="607" width="1" height="3" fill="#c0c0c0"/>
<rect x="993" y="607" width="1" height="5" fill="#c0c0c0"/>
<rect x="1001" y="607" width="1" height="4" fill="#c0c0c0"/>
<rect x="1017" y="605" width="1" height="3" fill="#c0c0c0"/>
<rect x="1025" y="600" width="1" height="8" fill="#c0c0c0"/>
<rect x="1033" y="595" width="1" height="13" fill="#c0c0c0"/>
<rect x="1041" y="593" width="1" height="15" fill="#c0c0c0"/>
<rect x="1049" y="589" width="1" height="19" fill="#c0c0c0"/>
<rect x="1057" y="589" width="1" height="19" fill="#c0c0c0"/>
<rect x="1065" y="591" width="1" height="17" fill="#c0c0c0"/>
<rect x="1073" y="590" width="1" height="18" fill="#c0c0c0"/>
<rect x="1081" y="589" width="1" height="19" fill="#c0c0c0"/>
<rect x="1089" y="588" width="1" height="20" fill="#c0c0c0"/>
<rect x="1097" y="586" width="1" height="22" fill="#c0c0c0"/>
<rect x="1105" y="581" width="1" height="27" fill="#c0c0c0"/>
<rect x="1113" y="578" width="1" height="30" fill="#c0c0c0"/>
<rect x="1121" y="580" width="1" height="28" fill="#c0c0c0"/>
<rect x="1129" y="577" width="1" height="31" fill="#c0c0c0"/>
<rect x="1137" y="574" width="1" height="34" fill="#c0c0c0"/>
<rect x="1145" y="571" width="1" height="37" fill="#c0c0c0"/>
<rect x="1153" y="568" width="1" height="40" fill="#c0c0c0"/>
<rect x="1161" y="564" width="1" height="44" fill="#c0c0c0"/>
<rect x="1169" y="558" width="1" height="50" fill="#c0c0c0"/>
<rect x="1177" y="555" width="1" height="53" fill="#c0c0c0"/>
<rect x="1185" y="552" width="1" height="56" fill="#c0c0c0"/>
<rect x="1193" y="554" width="1" height="54" fill="#c0c0c0"/>
<rect x="1201" y="557" width="1" height="51" fill="#c0c0c0"/>
<rect x="1209" y="560" width="1" height="48" fill="#c0c0c0"/>
<rect x="1217" y="568" width="1" height="40" fill="#c0c0c0"/>
<rect x="1225" y="574" width="1" height="34" fill="#c0c0c0"/>
<rect x="1233" y="579" width="1" height="29" fill="#c0c0c0"/>
<rect x="1241" y="586" width="1" height="22" fill="#c0c0c0"/>
<rect x="1249" y="592" width="1" height="16" fill="#c0c0c0"/>
<rect x="1257" y="595" width="1" height="13" fill="#c0c0c0"/>
<rect x="1265" y="596" width="1" height="12" fill="#c0c0c0"/>
<rect x="1273" y="594" width="1" height="14" fill="#c0c0c0"/>
<rect x="1281" y="594" width="1" height="14" fill="#c0c0c0"/>
<rect x="1289" y="593" width="1" height="15" fill="#c0c0c0"/>
<rect x="1297" y="590" width="1" height="18" fill="#c0c0c0"/>
<rect x="1305" y="588" width="1" height="20" fill="#c0c0c0"/>
<rect x="1313" y="588" width="1" height="20" fill="#c0c0c0"/>
<rect x="1321" y="589" width="1" height="19" fill="#c0c0c0"/>
<rect x="1329" y="590" width="1" height="18" fill="#c0c0c0"/>
<rect x="1337" y="592" width="1" height="16" fill="#c0c0c0"/>
<rect x="1345" y="594" width="1" height="14" fill="#c0c0c0"/>
<rect x="1353" y="598" width="1" height="10" fill="#c0c0c0"/>
<rect x="1361" y="607" width="1" height="2" fill="#c0c0c0"/>
<rect x="1369" y="607" width="1" height="9" fill="#c0c0c0"/>
<rect x="1377" y="607" width="1" height="15" fill="#c0c0c0"/>
<rect x="1385" y="607" width="1" height="18" fill="#c0c0c0"/>
<rect x="1393" y="607" width="1" height="21" fill="#c0c0c0"/>
<rect x="1401" y="607" width="1" height="20" fill="#c0c0c0"/>
<rect x="1409" y="607" width="1" height="16" fill="#c0c0c0"/>
<rect x="1417" y="607" width="1" height="12" fill="#c0c0c0"/>
<rect x="1425" y="607" width="1" height="9" fill="#c0c0c0"/>
<rect x="1433" y="607" width="1" height="8" fill="#c0c0c0"/>
<rect x="1441" y="607" width="1" height="5" fill="#c0c0c0"/>
<rect x="1449" y="607" width="1" height="5" fill="#c0c0c0"/>
<rect x="1457" y="607" width="1" height="6" fill="#c0c0c0"/>
<rect x="1465" y="607" width="1" height="6" fill="#c0c0c0"/>
<rect x="1473" y="607" width="1" height="7" fill="#c0c0c0"/>
<rect x="1481" y="607" width="1" height="8" fill="#c0c0c0"/>
<polyline points="0.0,678.4 8.4,673.6 21.0,664.2 37.8,648.4 52.5,634.7 67.2,623.6 81.9,614.8 90.3,611.6 105.0,609.5 113.4,610.6 121.8,612.7 134.5,618.6 151.3,627.4 168.1,635.8 182.8,642.5 193.3,644.2 216.4,644.2 237.4,642.5 252.1,642.5 264.7,645.7 279.4,647.4 294.1,651.1 306.7,653.0 321.4,656.4 344.5,657.4 357.1,653.7 373.9,646.7 388.7,635.8 402.6,622.8 419.4,605.8 432.0,597.4 444.6,590.6 453.0,587.5 465.6,581.2 478.2,577.6 503.4,577.6 516.1,576.3 524.5,577.6 537.1,582.6 551.8,587.1 564.4,588.5 574.9,590.2 589.6,591.3 621.1,592.7 637.9,595.3 652.6,597.6 661.0,600.5 684.1,603.7 705.1,606.4 717.7,608.1 730.3,609.5 742.9,608.1 759.7,606.4 772.4,605.3 780.0,600.5 786.3,597.6 801.0,587.1 817.8,572.8 834.6,557.0 849.3,545.0 859.8,538.7 868.2,537.1 878.7,538.1 889.2,542.9 901.8,552.4 914.5,565.4 927.1,579.1 939.7,593.4 952.3,603.9 964.9,610.2 979.6,613.3 994.3,614.2 1006.9,612.3 1019.5,610.0 1032.1,606.8 1044.7,603.7 1057.3,600.7 1069.9,596.5 1082.5,593.8 1099.3,589.0 1116.1,586.4 1137.1,582.6 1153.9,577.4 1168.7,572.1 1180.5,567.1 1191.0,565.0 1199.4,560.8 1212.0,559.1 1220.4,558.5 1233.0,561.2 1241.4,564.4 1254.0,571.3 1266.6,578.0 1279.2,585.4 1291.8,589.2 1304.5,591.3 1321.3,591.3 1333.9,590.2 1354.9,590.2 1363.3,593.2 1375.9,598.4 1388.5,605.3 1401.1,612.1 1413.7,617.3 1422.1,621.1 1443.1,621.5 1451.5,620.0 1464.1,617.3 1472.5,615.4 1481.3,615.4" fill="none" stroke="#ff0000" stroke-width="1" stroke-dasharray="3,3"/>
</g>
<g shape-rendering="crispEdges" clip-path="url(#cr)">
<line x1="2" y1="726.5" x2="1866" y2="726.5" stroke="#c0c0c0" stroke-width="1" stroke-dasharray="3,3"/>
<line x1="2" y1="775.5" x2="1866" y2="775.5" stroke="#c0c0c0" stroke-width="1" stroke-dasharray="3,3"/>
<polyline points="1.5,760.5 9.5,750.0 17.5,741.2 25.5,744.3 33.5,744.3 41.5,742.0 49.5,742.0 57.5,749.4 65.5,742.2 73.5,754.2 81.5,755.2 89.5,758.4 97.5,755.2 105.5,747.3 113.5,766.1 121.5,768.2 129.5,769.5 137.5,761.5 145.5,759.8 153.5,764.2 161.5,760.0 169.5,765.3 177.5,762.1 185.5,752.1 193.5,756.3 201.5,761.5 209.5,758.4 217.5,758.4 225.5,757.3 233.5,758.8 241.5,764.2 249.5,771.4 257.5,768.2 265.5,770.3 273.5,768.4 281.5,761.5 289.5,761.5 297.5,757.3 305.5,768.2 313.5,771.4 321.5,766.8 329.5,762.1 337.5,763.6 345.5,768.2 353.5,739.1 361.5,741.2 369.5,744.3 377.5,743.3 385.5,744.3 393.5,743.3 401.5,737.4 409.5,740.6 417.5,737.4 425.5,742.7 433.5,747.3 441.5,747.3 449.5,737.4 457.5,735.3 465.5,736.4 473.5,745.2 481.5,746.4 489.5,748.5 497.5,745.4 505.5,745.4 513.5,746.4 521.5,751.7 529.5,759.4 537.5,751.7 545.5,744.3 553.5,742.2 561.5,742.2 569.5,747.3 577.5,741.2 585.5,747.3 593.5,750.4 601.5,753.1 609.5,754.2 617.5,749.4 625.5,752.5 633.5,746.4 641.5,750.4 649.5,750.4 657.5,755.2 665.5,753.1 673.5,751.5 681.5,754.6 689.5,750.4 697.5,756.3 705.5,756.3 713.5,748.3 721.5,751.5 729.5,744.3 737.5,746.4 745.5,745.4 753.5,746.4 761.5,744.3 769.5,740.1 777.5,730.1 785.5,716.0 793.5,720.0 801.5,721.7 809.5,726.3 817.5,722.3 825.5,721.3 833.5,720.2 841.5,723.4 849.5,725.3 857.5,725.3 865.5,740.6 873.5,751.0 881.5,761.5 889.5,761.5 897.5,757.3 905.5,760.5 913.5,763.6 921.5,765.7 929.5,758.4 937.5,762.6 945.5,762.6 953.5,747.9 961.5,741.2 969.5,743.3 977.5,753.1 985.5,754.6 993.5,756.7 1001.5,748.9 1009.5,747.3 1017.5,744.3 1025.5,740.6 1033.5,738.5 1041.5,743.3 1049.5,738.5 1057.5,743.7 1065.5,749.6 1073.5,744.7 1081.5,743.3 1089.5,742.2 1097.5,739.5 1105.5,733.6 1113.5,735.3 1121.5,745.8 1129.5,736.4 1137.5,736.4 1145.5,732.6 1153.5,732.2 1161.5,730.1 1169.5,724.8 1177.5,727.6 1185.5,726.5 1193.5,734.7 1201.5,739.5 1209.5,736.4 1217.5,754.2 1225.5,750.4 1233.5,750.4 1241.5,755.2 1249.5,757.7 1257.5,752.1 1265.5,747.9 1273.5,743.3 1281.5,746.4 1289.5,743.3 1297.5,739.5 1305.5,739.1 1313.5,741.2 1321.5,746.4 1329.5,744.3 1337.5,748.5 1345.5,751.5 1353.5,754.8 1361.5,772.4 1369.5,766.1 1377.5,767.4 1385.5,760.0 1393.5,763.6 1401.5,756.3 1409.5,747.9 1417.5,749.4 1425.5,749.4 1433.5,750.4 1441.5,746.2 1449.5,752.1 1457.5,754.2 1465.5,755.6 1473.5,756.7 1481.5,757.7" fill="none" stroke="#1e90ff" stroke-width="1" />
</g>
<g shape-rendering="crispEdges" fill="#000">
<rect x="0" y="0" width="1867" height="1"/>
<rect x="0" y="0" width="1" height="520"/>
<rect x="1866" y="0" width="1" height="520"/>
<rect x="0" y="519" width="1867" height="1"/>
<rect x="0" y="521" width="1867" height="1"/>
<rect x="0" y="521" width="1" height="166"/>
<rect x="1866" y="521" width="1" height="166"/>
<rect x="0" y="686" width="1867" height="1"/>
<rect x="0" y="688" width="1867" height="1"/>
<rect x="0" y="688" width="1" height="125"/>
<rect x="1866" y="688" width="1" height="125"/>
<rect x="0" y="812" width="1867" height="1"/>
<rect x="1867" y="21" width="2" height="1"/>
<rect x="1867" y="54" width="2" height="1"/>
<rect x="1867" y="87" width="2" height="1"/>
<rect x="1867" y="120" width="2" height="1"/>
<rect x="1867" y="153" width="2" height="1"/>
<rect x="1867" y="186" width="2" height="1"/>
<rect x="1867" y="219" width="2" height="1"/>
<rect x="1867" y="285" width="2" height="1"/>
<rect x="1867" y="318" width="2" height="1"/>
<rect x="1867" y="351" width="2" height="1"/>
<rect x="1867" y="384" width="2" height="1"/>
<rect x="1867" y="417" width="2" height="1"/>
<rect x="1867" y="450" width="2" height="1"/>
<rect x="1867" y="483" width="2" height="1"/>
<rect x="1867" y="516" width="2" height="1"/>
<rect x="1867" y="523" width="1" height="1"/>
<rect x="1867" y="607" width="1" height="1"/>
<rect x="1867" y="685" width="1" height="1"/>
<rect x="1867" y="690" width="1" height="1"/>
<rect x="1867" y="811" width="1" height="1"/>
<rect x="1" y="813" width="1" height="3"/>
<rect x="65" y="813" width="1" height="3"/>
<rect x="129" y="813" width="1" height="3"/>
<rect x="193" y="813" width="1" height="3"/>
<rect x="257" y="813" width="1" height="3"/>
<rect x="321" y="813" width="1" height="3"/>
<rect x="385" y="813" width="1" height="3"/>
<rect x="449" y="813" width="1" height="3"/>
<rect x="513" y="813" width="1" height="3"/>
<rect x="577" y="813" width="1" height="3"/>
<rect x="641" y="813" width="1" height="3"/>
<rect x="705" y="813" width="1" height="3"/>
<rect x="769" y="813" width="1" height="3"/>
<rect x="833" y="813" width="1" height="3"/>
<rect x="897" y="813" width="1" height="3"/>
<rect x="961" y="813" width="1" height="3"/>
<rect x="1025" y="813" width="1" height="3"/>
<rect x="1089" y="813" width="1" height="3"/>
<rect x="1153" y="813" width="1" height="3"/>
<rect x="1217" y="813" width="1" height="3"/>
<rect x="1281" y="813" width="1" height="3"/>
<rect x="1345" y="813" width="1" height="3"/>
<rect x="1409" y="813" width="1" height="3"/>
<rect x="1473" y="813" width="1" height="3"/>
</g>
<polygon points="1487,1 1496,1 1491.5,6" fill="#708090"/>
<polygon points="4,7.5 11,7.5 7.5,11" fill="#000"/>
<text x="15.7" y="12" textLength="57" lengthAdjust="spacingAndGlyphs" id="title">XAUUSD-,H4</text>
<text x="79.5" y="12" textLength="140" lengthAdjust="spacingAndGlyphs">1787.01 1788.04 1786.79 1786.93</text>
<text x="5.3" y="534.3" textLength="123.3" lengthAdjust="spacingAndGlyphs" id="macdt">MACD(12,26,9) -1.183 -1.070</text>
<text x="5.2" y="700.7" textLength="67.3" lengthAdjust="spacingAndGlyphs" id="rsit">RSI(14) 45.0261</text>
<text x="1872.5" y="24.8" textLength="32.4" lengthAdjust="spacingAndGlyphs">1814.60</text>
<text x="1872.5" y="57.8" textLength="32.4" lengthAdjust="spacingAndGlyphs">1808.15</text>
<text x="1872.5" y="90.8" textLength="32.4" lengthAdjust="spacingAndGlyphs">1801.85</text>
<text x="1872.5" y="123.8" textLength="32.4" lengthAdjust="spacingAndGlyphs">1795.55</text>
<text x="1872.5" y="156.8" textLength="32.4" lengthAdjust="spacingAndGlyphs">1789.25</text>
<text x="1872.5" y="189.8" textLength="32.4" lengthAdjust="spacingAndGlyphs">1782.95</text>
<text x="1872.5" y="222.8" textLength="32.4" lengthAdjust="spacingAndGlyphs">1776.65</text>
<text x="1872.5" y="288.8" textLength="32.4" lengthAdjust="spacingAndGlyphs">1763.90</text>
<text x="1872.5" y="321.8" textLength="32.4" lengthAdjust="spacingAndGlyphs">1757.60</text>
<text x="1872.5" y="354.8" textLength="32.4" lengthAdjust="spacingAndGlyphs">1751.30</text>
<text x="1872.5" y="387.8" textLength="32.4" lengthAdjust="spacingAndGlyphs">1745.00</text>
<text x="1872.5" y="420.8" textLength="32.4" lengthAdjust="spacingAndGlyphs">1738.70</text>
<text x="1872.5" y="453.8" textLength="32.4" lengthAdjust="spacingAndGlyphs">1732.25</text>
<text x="1872.5" y="486.8" textLength="32.4" lengthAdjust="spacingAndGlyphs">1725.95</text>
<text x="1872.5" y="519.8" textLength="32.4" lengthAdjust="spacingAndGlyphs">1719.65</text>
<rect x="1868" y="91" width="40" height="11" fill="#ff0000" shape-rendering="crispEdges"/>
<text x="1872.5" y="99.9" textLength="32.4" lengthAdjust="spacingAndGlyphs" class="w">1800.00</text>
<rect x="1868" y="160" width="40" height="11" fill="#000000" shape-rendering="crispEdges"/>
<text x="1872.5" y="168.9" textLength="32.4" lengthAdjust="spacingAndGlyphs" class="w">1786.93</text>
<rect x="1868" y="169" width="40" height="11" fill="#32cd32" shape-rendering="crispEdges"/>
<text x="1872.5" y="177.9" textLength="32.4" lengthAdjust="spacingAndGlyphs" class="w">1785.00</text>
<rect x="1868" y="247" width="40" height="11" fill="#4169e1" shape-rendering="crispEdges"/>
<text x="1872.5" y="255.9" textLength="32.4" lengthAdjust="spacingAndGlyphs" class="w">1770.00</text>
<rect x="1868" y="352" width="40" height="11" fill="#4169e1" shape-rendering="crispEdges"/>
<text x="1872.5" y="360.9" textLength="32.4" lengthAdjust="spacingAndGlyphs" class="w">1750.00</text>
<text x="1870.5" y="531.8" textLength="27.4" lengthAdjust="spacingAndGlyphs">11.413</text>
<text x="1870" y="610.9" textLength="18" lengthAdjust="spacingAndGlyphs">0.00</text>
<text x="1870.2" y="682.9" textLength="30.9" lengthAdjust="spacingAndGlyphs">-10.697</text>
<text x="1870.4" y="698.9" textLength="14.3" lengthAdjust="spacingAndGlyphs">100</text>
<text x="1869.6" y="729.9" textLength="9.3" lengthAdjust="spacingAndGlyphs">70</text>
<text x="1868.9" y="779" textLength="9.7" lengthAdjust="spacingAndGlyphs">30</text>
<text x="1870" y="808.9" textLength="5" lengthAdjust="spacingAndGlyphs">0</text>
<text x="0.4" y="824.9" textLength="50.7" lengthAdjust="spacingAndGlyphs">21 Sep 2021</text>
<text x="64.4" y="824.9" textLength="54.2" lengthAdjust="spacingAndGlyphs">22 Sep 12:00</text>
<text x="128.4" y="824.9" textLength="54.2" lengthAdjust="spacingAndGlyphs">23 Sep 20:00</text>
<text x="192.4" y="824.9" textLength="54.2" lengthAdjust="spacingAndGlyphs">27 Sep 04:00</text>
<text x="256.4" y="824.9" textLength="54.2" lengthAdjust="spacingAndGlyphs">28 Sep 12:00</text>
<text x="320.4" y="824.9" textLength="54.2" lengthAdjust="spacingAndGlyphs">29 Sep 20:00</text>
<text x="384.4" y="824.9" textLength="48.5" lengthAdjust="spacingAndGlyphs">1 Oct 04:00</text>
<text x="448.4" y="824.9" textLength="48.5" lengthAdjust="spacingAndGlyphs">4 Oct 12:00</text>
<text x="512.4" y="824.9" textLength="48.5" lengthAdjust="spacingAndGlyphs">5 Oct 20:00</text>
<text x="576.4" y="824.9" textLength="48.5" lengthAdjust="spacingAndGlyphs">7 Oct 04:00</text>
<text x="640.4" y="824.9" textLength="48.5" lengthAdjust="spacingAndGlyphs">8 Oct 12:00</text>
<text x="704.4" y="824.9" textLength="53.5" lengthAdjust="spacingAndGlyphs">11 Oct 20:00</text>
<text x="768.4" y="824.9" textLength="53.5" lengthAdjust="spacingAndGlyphs">13 Oct 04:00</text>
<text x="832.4" y="824.9" textLength="53.5" lengthAdjust="spacingAndGlyphs">14 Oct 12:00</text>
<text x="896.4" y="824.9" textLength="53.5" lengthAdjust="spacingAndGlyphs">17 Oct 23:00</text>
<text x="960.4" y="824.9" textLength="53.5" lengthAdjust="spacingAndGlyphs">19 Oct 04:00</text>
<text x="1024.4" y="824.9" textLength="53.5" lengthAdjust="spacingAndGlyphs">20 Oct 12:00</text>
<text x="1088.4" y="824.9" textLength="53.5" lengthAdjust="spacingAndGlyphs">21 Oct 20:00</text>
<text x="1152.4" y="824.9" textLength="53.5" lengthAdjust="spacingAndGlyphs">25 Oct 04:00</text>
<text x="1216.4" y="824.9" textLength="53.5" lengthAdjust="spacingAndGlyphs">26 Oct 12:00</text>
<text x="1280.4" y="824.9" textLength="53.5" lengthAdjust="spacingAndGlyphs">27 Oct 20:00</text>
<text x="1344.4" y="824.9" textLength="53.5" lengthAdjust="spacingAndGlyphs">29 Oct 04:00</text>
<text x="1408.4" y="824.9" textLength="51.3" lengthAdjust="spacingAndGlyphs">1 Nov 12:00</text>
<text x="1472.4" y="824.9" textLength="51.3" lengthAdjust="spacingAndGlyphs">2 Nov 20:00</text>
<text x="1327.4" y="445.3" class="cj" id="anno" style="font-size:39.6px">多空转折点<tspan x="1525.6" dy="-1.2" style="font-size:40.7px">1785</tspan></text>
</svg></body></html>
